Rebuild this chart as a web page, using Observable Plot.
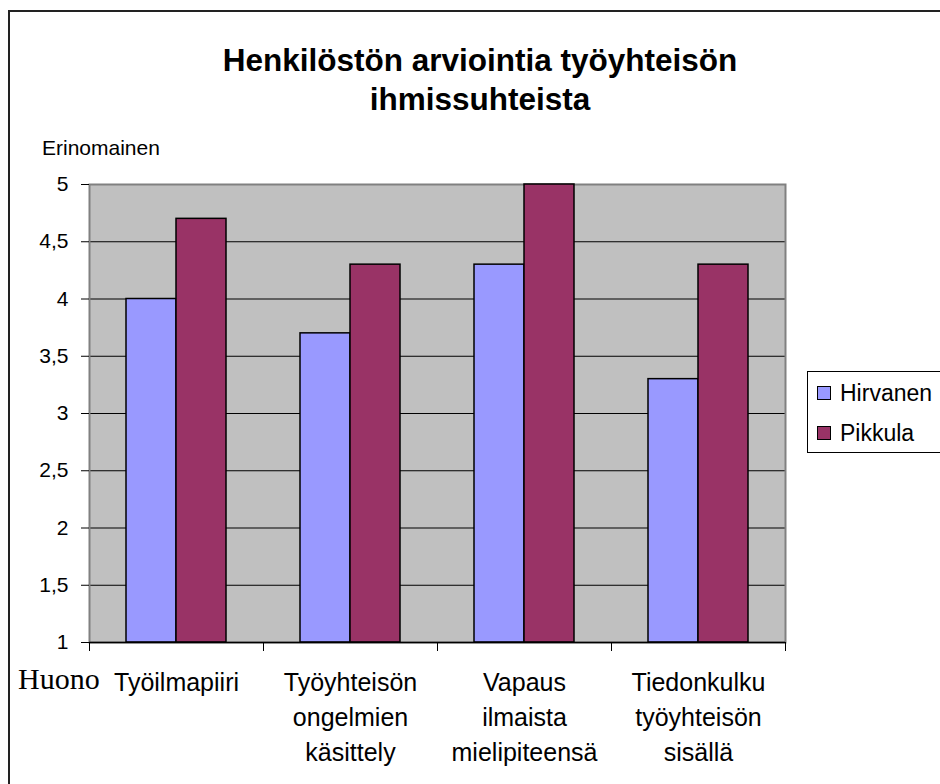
<!DOCTYPE html>
<html>
<head>
<meta charset="utf-8">
<script src="https://cdn.jsdelivr.net/npm/d3@7"></script>
<script src="https://cdn.jsdelivr.net/npm/@observablehq/plot@0.6"></script>
<style>
  html, body { margin: 0; padding: 0; background: #fff; overflow: hidden; }
  #wrap { position: relative; width: 940px; height: 784px; font-family: "Liberation Sans", Arial, sans-serif; color: #000; }
  #chart { position: absolute; left: 0; top: 0; }
  #border { position: absolute; left: 8px; top: 10px; width: 960px; height: 800px; border: 2px solid #222; box-sizing: border-box; pointer-events: none; }
  #title { position: absolute; left: 480px; top: 41px; transform: translateX(-50%); text-align: center; white-space: nowrap; font-weight: bold; font-size: 31.5px; line-height: 39px; }
  #ylab { position: absolute; left: 42px; top: 137px; font-size: 21px; line-height: 1; white-space: nowrap; }
  #huono { position: absolute; left: 18px; top: 664px; font-family: "Liberation Serif", "Times New Roman", serif; font-size: 30px; line-height: 1; }
  #legend { position: absolute; left: 807px; top: 371px; width: 150px; height: 82px; border: 1px solid #000; box-sizing: border-box; }
  .li { position: absolute; left: 9px; font-size: 23px; line-height: 1; white-space: nowrap; }
  .sw { display: inline-block; width: 12px; height: 12px; border: 1px solid #000; margin-right: 9px; vertical-align: 1px; }
</style>
</head>
<body>
<div id="wrap">
  <div id="chart"></div>
  <div id="title"></div>
  <div id="ylab"></div>
  <div id="huono"></div>
  <div id="legend"></div>
  <div id="border"></div>
</div>
<script>
// ---- data ----
const titleLines = ["Henkilöstön arviointia työyhteisön", "ihmissuhteista"];
const yTopLabel = "Erinomainen";
const yBottomLabel = "Huono";
const categories = [
  "Työilmapiiri",
  "Työyhteisön\nongelmien\nkäsittely",
  "Vapaus\nilmaista\nmielipiteensä",
  "Tiedonkulku\ntyöyhteisön\nsisällä"
];
const seriesNames = ["Hirvanen", "Pikkula"];
const hirvanen = [4.0, 3.7, 4.3, 3.3];
const pikkula = [4.7, 4.3, 5.0, 4.3];
const yTicks = [1, 1.5, 2, 2.5, 3, 3.5, 4, 4.5, 5];
const yDomain = [1, 5];
const seriesColors = ["#9999FF", "#993366"];

// ---- table ----
const rows = [];
categories.forEach((c, i) => {
  rows.push({category: c, series: seriesNames[0], value: hirvanen[i]});
  rows.push({category: c, series: seriesNames[1], value: pikkula[i]});
});

const W = 940, H = 784;
const mL = 89, mR = 155, mT = 184, mB = 142;
const innerH = H - mT - mB;

const plot = Plot.plot({
  width: W,
  height: H,
  marginLeft: mL,
  marginRight: mR,
  marginTop: mT,
  marginBottom: mB,
  style: {background: "transparent", fontFamily: "Liberation Sans, Arial, sans-serif", color: "#000"},
  fx: {domain: categories, padding: 0, label: null},
  x: {domain: seriesNames, paddingInner: 0, paddingOuter: 0.74, axis: null},
  y: {domain: yDomain, label: null},
  color: {domain: seriesNames, range: seriesColors},
  marks: [
    Plot.frame({fill: "#C0C0C0", facet: "super"}),
    Plot.ruleY(yTicks.filter(t => t > yDomain[0] && t < yDomain[1]), {stroke: "#000", strokeWidth: 1}),
    Plot.frame({stroke: "#808080", strokeWidth: 2, facet: "super"}),
    Plot.barY(rows, {fx: "category", x: "series", y1: () => yDomain[0], y2: "value", fill: "series", stroke: "#000", strokeWidth: 1.5}),
    Plot.ruleY([yDomain[0]], {stroke: "#000", strokeWidth: 1.5}),
    Plot.frame({anchor: "left", insetTop: innerH, insetBottom: -8, stroke: "#000"}),
    Plot.frame({anchor: "right", insetTop: innerH, insetBottom: -8, stroke: "#000"}),
    Plot.axisY({ticks: yTicks, tickFormat: d => String(d).replace(".", ","), tickSize: 8, tickPadding: 13, fontSize: 21, label: null}),
    Plot.axisFx({anchor: "bottom", tickSize: 0, tickPadding: 24, fontSize: 25, lineHeight: 1.4, label: null})
  ]
});
document.getElementById("chart").appendChild(plot);

// ---- texts ----
document.getElementById("title").innerHTML = titleLines.join("<br>");
document.getElementById("ylab").textContent = yTopLabel;
document.getElementById("huono").textContent = yBottomLabel;
const leg = document.getElementById("legend");
seriesNames.forEach((s, i) => {
  const d = document.createElement("div");
  d.className = "li";
  d.style.top = (10 + i * 40) + "px";
  const sw = document.createElement("span");
  sw.className = "sw";
  sw.style.background = seriesColors[i];
  d.appendChild(sw);
  d.appendChild(document.createTextNode(s));
  leg.appendChild(d);
});
</script>
</body>
</html>
